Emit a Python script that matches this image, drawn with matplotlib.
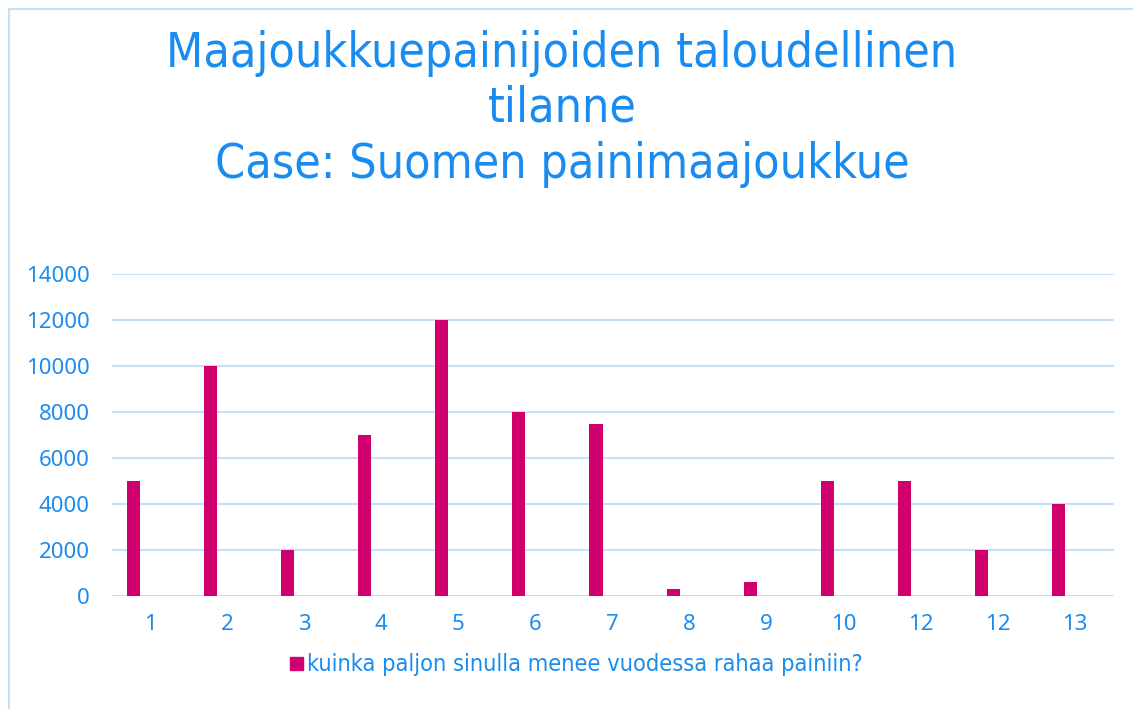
import matplotlib
matplotlib.use("Agg")
import numpy as np
import matplotlib.pyplot as plt
from matplotlib.patches import Rectangle

# data
categories = ["1", "2", "3", "4", "5", "6", "7", "8", "9", "10", "12", "12", "13"]
values = [5000, 10000, 2000, 7000, 12000, 8000, 7500, 300, 600, 5000, 5000, 2000, 4000]
yticks = [0, 2000, 4000, 6000, 8000, 10000, 12000, 14000]

title_lines = ["Maajoukkuepainijoiden taloudellinen", "tilanne", "Case: Suomen painimaajoukkue"]
series_name = "kuinka paljon sinulla menee vuodessa rahaa painiin?"

BLUE = "#1a8cf0"
BAR = "#d0006f"
GRID = "#c6e0f7"

fig = plt.figure(figsize=(11.33, 7.09), dpi=100)

# light blue outer frame
fig.patches.append(Rectangle((9 / 1133, -0.1), 1.2, 1 - 9 / 709 + 0.1,
                             transform=fig.transFigure, fill=False,
                             edgecolor=GRID, linewidth=1.5))

ax = fig.add_axes([111.5 / 1133, 1 - 596 / 709, (1113.5 - 111.5) / 1133, (596 - 274) / 709])

x = np.arange(len(categories))
ax.bar(x - 0.214, values, width=0.169, color=BAR, zorder=3)

ax.set_xlim(-0.5, len(categories) - 0.5)
ax.set_ylim(0, 14000)
ax.set_yticks(yticks)
ax.set_yticklabels([str(v) for v in yticks])
ax.set_xticks(x)
ax.set_xticklabels(categories)

ax.grid(axis="y", color=GRID, linewidth=1.5, zorder=0)
for s in ax.spines.values():
    s.set_visible(False)
ax.tick_params(length=0, colors=BLUE, labelsize=16)
ax.tick_params(axis="y", pad=15.5)
ax.tick_params(axis="x", pad=13)
for lab in ax.get_xticklabels() + ax.get_yticklabels():
    lab.set_family(["Noto Sans", "DejaVu Sans"])

ys = [1 - 67 / 709, 1 - 122 / 709, 1 - 178 / 709]
for line, y in zip(title_lines, ys):
    fig.text(562 / 1133, y, line, ha="center", va="baseline", fontsize=34.7,
             color=BLUE, family="DejaVu Sans", fontstretch="condensed")

# legend
fig.patches.append(Rectangle((290 / 1133, 1 - 670 / 709), 13 / 1133, 13 / 709,
                             transform=fig.transFigure, color=BAR))
fig.text(307 / 1133, 1 - 664 / 709, series_name, ha="left", va="center",
         fontsize=16.9, color=BLUE, family="DejaVu Sans", fontstretch="condensed")

fig.savefig("out.png", dpi=100)
